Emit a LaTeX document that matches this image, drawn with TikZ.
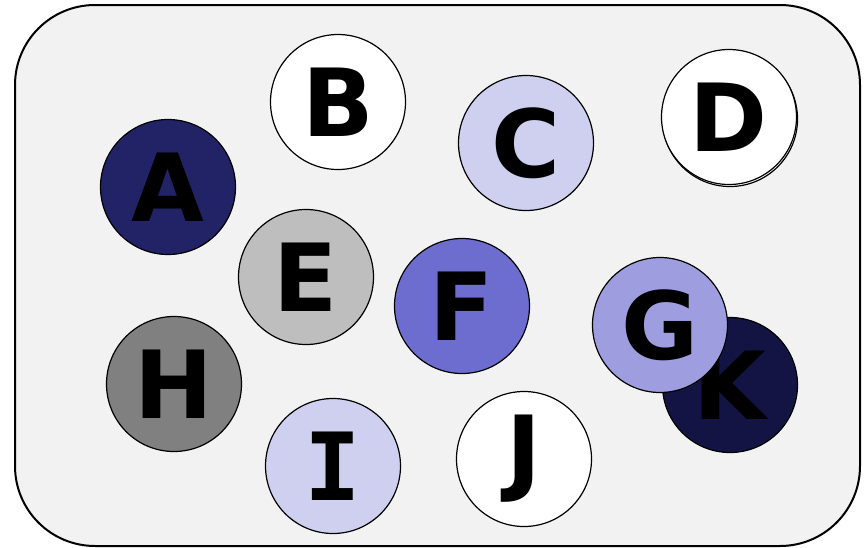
\documentclass[tikz,border=0pt]{standalone}
\usepackage{fontspec}
\setmainfont{DejaVu Sans}
\newfontfamily\monob{DejaVu Sans Mono}
\definecolor{bgfill}{HTML}{F2F2F2}
\definecolor{cA}{HTML}{222266}
\definecolor{cC}{HTML}{CFCFF0}
\definecolor{cE}{HTML}{BEBEBE}
\definecolor{cF}{HTML}{6D6DCF}
\definecolor{cG}{HTML}{9D9DE0}
\definecolor{cH}{HTML}{808080}
\definecolor{cK}{HTML}{141444}
\begin{document}
\begin{tikzpicture}[x=1pt,y=-1pt,
  ball/.style={circle,draw=black,line width=1.2pt,minimum size=135pt,inner sep=0pt,
    font=\fontsize{94}{94}\selectfont\bfseries,text=black}]
\useasboundingbox (0,0) rectangle (868,547);
\draw[line width=2pt,fill=bgfill,rounded corners=80pt] (15,5) rectangle (860,546);
\node[ball,fill=cA] (A) at (168,187) {A};
\node[ball,fill=white] (B) at (338,102) {B};
\node[ball,fill=cC] (C) at (526,143) {C};
\node[ball,fill=white] (Dsh) at (730,119) {};
\node[ball,fill=white] (D) at (729,117) {D};
\node[ball,fill=cE] (E) at (306,277) {E};
\node[ball,fill=cF] (F) at (462,306) {F};
\node[ball,fill=cK] (K) at (730,385) {K};
\node[ball,fill=cG] (G) at (660,325) {G};
\node[ball,fill=cH] (H) at (174,384) {H};
\node[ball,fill=cC] (I) at (333,466) {\monob\bfseries I};
\node[ball,fill=white] (J) at (524,459) {J};
\end{tikzpicture}
\end{document}
